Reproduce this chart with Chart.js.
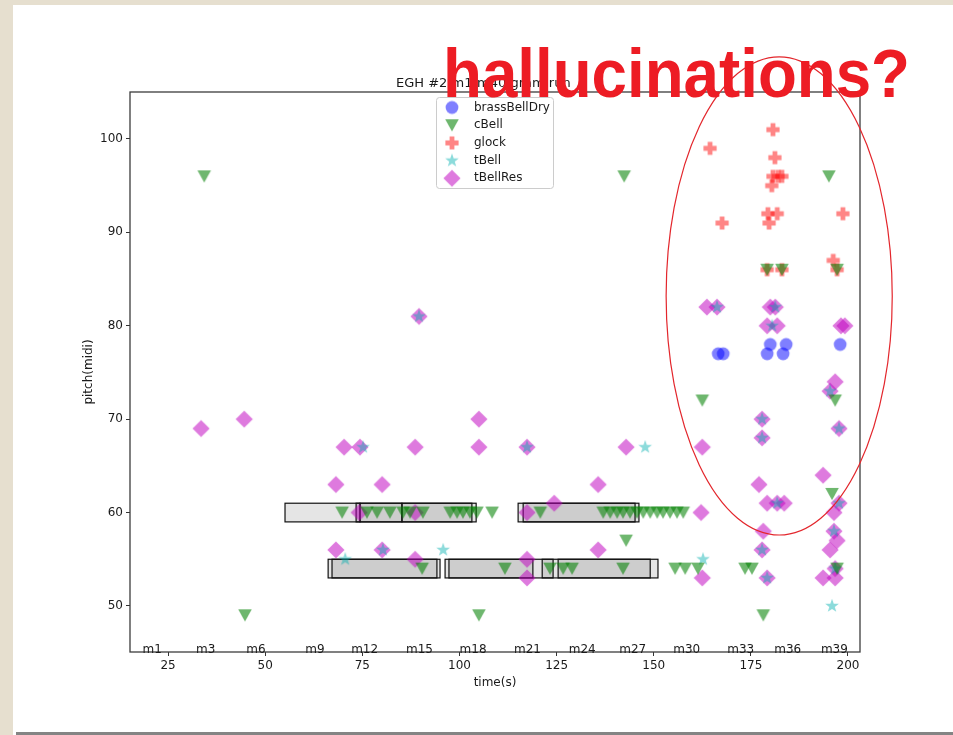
<!DOCTYPE html>
<html>
<head>
<meta charset="utf-8">
<script src="https://cdn.jsdelivr.net/npm/chart.js@4.4.1/dist/chart.umd.min.js"></script>
<style>
  html, body { margin: 0; padding: 0; background: #ffffff; }
  canvas { display: block; }
</style>
</head>
<body>
<canvas id="chart" width="953" height="735"></canvas>
<script>
// ---------- event data: onset time (s) and MIDI pitch ----------
const brassBellDryTime  = [166.6, 167.9, 179.2, 180.0, 183.3, 184.1, 198.0];
const brassBellDryPitch = [77, 77, 77, 78, 77, 78, 78];

const cBellTime = [
  34.3, 142.4, 195.1, 44.8, 105.0, 178.2, 162.5, 196.7, 195.9, 142.9,
  69.8, 76.2, 78.8, 82.1, 85.5, 87.3, 90.6, 97.6, 99.4, 100.9, 102.7, 104.5, 108.4, 120.8,
  137.0, 138.8, 140.6, 142.1, 143.9, 145.7, 147.3, 149.1, 150.9, 152.4, 154.2, 156.0, 157.6,
  90.4, 111.7, 123.3, 126.7, 129.0, 142.1, 155.5, 158.1, 161.4, 173.5, 175.3, 197.2,
  179.2, 183.0, 197.2
];
const cBellPitch = [
  96, 96, 96, 49, 49, 49, 72, 72, 62, 57,
  60, 60, 60, 60, 60, 60, 60, 60, 60, 60, 60, 60, 60, 60,
  60, 60, 60, 60, 60, 60, 60, 60, 60, 60, 60, 60, 60,
  54, 54, 54, 54, 54, 54, 54, 54, 54, 54, 54, 54,
  86, 86, 86
];

const glockTime  = [180.7, 164.5, 181.2, 180.7, 182.0, 183.0, 180.4, 179.4, 181.8, 179.7, 167.6, 198.7, 196.2, 179.2, 183.0, 197.2];
const glockPitch = [101, 99, 98, 96, 96, 96, 95, 92, 92, 91, 91, 92, 87, 86, 86, 86];

const tBellTime  = [70.6, 75.2, 80.3, 89.6, 95.8, 117.4, 147.8, 162.7, 195.9,
                    166.3, 181.3, 180.5, 177.9, 177.9, 197.7, 179.2, 196.4, 195.4, 177.9, 181.8, 197.7, 196.7];
const tBellPitch = [55, 67, 56, 81, 56, 67, 67, 55, 50,
                    82, 82, 80, 70, 68, 69, 53, 58, 73, 56, 61, 61, 54];

const tBellResTime = [
  33.5, 44.6, 68.2, 70.3, 74.4, 80.1, 68.2, 80.1, 74.2, 88.6, 88.6, 88.6, 89.6,
  105.0, 105.0, 117.4, 117.4, 124.4, 117.4, 117.4, 135.7, 135.7, 142.9,
  163.7, 166.3, 180.0, 181.3, 179.2, 181.8, 198.2, 199.2, 196.7, 195.4, 197.7,
  177.9, 177.9, 162.5, 193.6, 177.1, 179.2, 181.8, 183.6, 197.7, 196.4, 162.2,
  178.2, 196.4, 197.2, 195.4, 177.9, 162.5, 179.2, 193.6, 196.7, 196.7
];
const tBellResPitch = [
  69, 70, 63, 67, 67, 63, 56, 56, 60, 60, 67, 55, 81,
  70, 67, 67, 60, 61, 55, 53, 63, 56, 67,
  82, 82, 82, 82, 80, 80, 80, 80, 74, 73, 69,
  70, 68, 67, 64, 63, 61, 61, 61, 61, 60, 60,
  58, 58, 57, 56, 56, 53, 53, 53, 54, 53
];

// gram segments: start (s), end (s), centre pitch
const gramStart = [55.1, 73.4, 74.4, 85.2, 115.1, 116.4, 66.2, 67.2, 96.3, 97.3, 121.3, 125.4];
const gramEnd   = [74.4, 85.2, 103.2, 104.3, 145.2, 146.2, 95.0, 94.2, 124.1, 118.9, 151.1, 149.1];
const gramPitch = [60, 60, 60, 60, 60, 60, 54, 54, 54, 54, 54, 54];

// measure markers along the time axis
const measureLabels = ['m1', 'm3', 'm6', 'm9', 'm12', 'm15', 'm18', 'm21', 'm24', 'm27', 'm30', 'm33', 'm36', 'm39'];
const measureTimes  = [20.9, 34.7, 47.6, 62.8, 75.6, 89.7, 103.5, 117.5, 131.6, 144.6, 158.5, 172.4, 184.5, 196.5];

// axis ticks
const xTickValues = [25, 50, 75, 100, 125, 150, 175, 200];
const yTickValues = [50, 60, 70, 80, 90, 100];

// ---------- marker sprites ----------
function makeMarker(kind, rgb, alpha) {
  const size = 24;
  const c = document.createElement('canvas');
  c.width = size; c.height = size;
  const g = c.getContext('2d');
  g.translate(size / 2, size / 2);
  g.fillStyle = 'rgba(' + rgb + ',' + alpha + ')';
  g.beginPath();
  if (kind === 'circle') {
    g.arc(0, 0, 6.4, 0, Math.PI * 2);
  } else if (kind === 'triDown') {
    g.moveTo(-6.8, -5.9); g.lineTo(6.8, -5.9); g.lineTo(0, 6.3); g.closePath();
  } else if (kind === 'plus') {
    const a = 6.6, b = 2.4;
    g.moveTo(-b, -a); g.lineTo(b, -a); g.lineTo(b, -b); g.lineTo(a, -b); g.lineTo(a, b);
    g.lineTo(b, b); g.lineTo(b, a); g.lineTo(-b, a); g.lineTo(-b, b); g.lineTo(-a, b);
    g.lineTo(-a, -b); g.lineTo(-b, -b); g.closePath();
  } else if (kind === 'star') {
    for (let i = 0; i < 10; i++) {
      const r = i % 2 ? 2.9 : 7.2;
      const ang = -Math.PI / 2 + i * Math.PI / 5;
      const px = r * Math.cos(ang), py = r * Math.sin(ang);
      if (i === 0) g.moveTo(px, py); else g.lineTo(px, py);
    }
    g.closePath();
  } else if (kind === 'diamond') {
    g.moveTo(0, -8.6); g.lineTo(8.6, 0); g.lineTo(0, 8.6); g.lineTo(-8.6, 0); g.closePath();
  }
  g.fill();
  return c;
}

const markers = {
  brassBellDry: makeMarker('circle', '0,0,255', 0.5),
  cBell: makeMarker('triDown', '0,128,0', 0.57),
  glock: makeMarker('plus', '255,0,0', 0.48),
  tBell: makeMarker('star', '0,175,175', 0.45),
  tBellRes: makeMarker('diamond', '191,0,191', 0.52)
};

const toPoints = (ts, ps) => ts.map((t, i) => ({ x: t, y: ps[i] }));

const series = [
  { label: 'brassBellDry', data: toPoints(brassBellDryTime, brassBellDryPitch) },
  { label: 'cBell', data: toPoints(cBellTime, cBellPitch) },
  { label: 'glock', data: toPoints(glockTime, glockPitch) },
  { label: 'tBell', data: toPoints(tBellTime, tBellPitch) },
  { label: 'tBellRes', data: toPoints(tBellResTime, tBellResPitch) }
];

const FONT = 'DejaVu Sans';
const TEXT = '#1a1a1a';

// ---------- plugins ----------
const slidePage = {
  id: 'slidePage',
  beforeDraw(chart) {
    const ctx = chart.ctx;
    ctx.save();
    ctx.fillStyle = '#e6dfcf';
    ctx.fillRect(0, 0, chart.width, chart.height);
    ctx.fillStyle = '#ffffff';
    ctx.fillRect(13, 5, chart.width - 13, chart.height - 5);
    ctx.fillStyle = '#848484';
    ctx.fillRect(16, chart.height - 3, chart.width - 16, 3);
    ctx.restore();
  }
};

const gramBoxes = {
  id: 'gramBoxes',
  beforeDatasetsDraw(chart) {
    const { ctx, scales: { x, y } } = chart;
    ctx.save();
    gramStart.forEach((s, i) => {
      const x0 = x.getPixelForValue(s), x1 = x.getPixelForValue(gramEnd[i]);
      const y0 = y.getPixelForValue(gramPitch[i] + 1), y1 = y.getPixelForValue(gramPitch[i] - 1);
      ctx.fillStyle = 'rgba(0,0,0,0.1)';
      ctx.fillRect(x0, y0, x1 - x0, y1 - y0);
      ctx.strokeStyle = '#111111';
      ctx.lineWidth = 1.2;
      ctx.strokeRect(x0, y0, x1 - x0, y1 - y0);
    });
    ctx.restore();
  }
};

const axesDecor = {
  id: 'axesDecor',
  afterDatasetsDraw(chart) {
    const { ctx, chartArea: a, scales: { x } } = chart;
    ctx.save();
    // axes frame
    ctx.strokeStyle = '#3c3c3c';
    ctx.lineWidth = 1.3;
    ctx.strokeRect(a.left, a.top, a.right - a.left, a.bottom - a.top);
    // measure labels
    ctx.fillStyle = TEXT;
    ctx.font = '12px "' + FONT + '"';
    ctx.textAlign = 'center';
    ctx.textBaseline = 'alphabetic';
    measureLabels.forEach((m, i) => {
      ctx.fillText(m, x.getPixelForValue(measureTimes[i]), a.bottom + 1);
    });
    // title
    ctx.font = '13px "' + FONT + '"';
    ctx.textAlign = 'left';
    ctx.fillText('EGH #2 m1-m40 gram run', 396, 87);
    // legend
    const lx = 436, ly = 97, lw = 117, lh = 91;
    ctx.fillStyle = 'rgba(255,255,255,0.85)';
    ctx.strokeStyle = '#cccccc';
    ctx.lineWidth = 1;
    ctx.beginPath();
    ctx.roundRect(lx + 0.5, ly + 0.5, lw, lh, 3);
    ctx.fill();
    ctx.stroke();
    ctx.font = '12px "' + FONT + '"';
    ctx.textBaseline = 'middle';
    ctx.fillStyle = TEXT;
    chart.data.datasets.forEach((ds, i) => {
      const cy = ly + 10.5 + i * 17.7;
      const img = ds.pointStyle;
      ctx.drawImage(img, 452 - img.width / 2, cy - img.height / 2);
      ctx.fillText(ds.label, 474, cy);
    });
    ctx.restore();
  }
};

// callout drawn over the chart: ellipse around the upper-right cluster and the heading
const callout = {
  id: 'callout',
  afterDraw(chart) {
    const { ctx, scales: { x, y } } = chart;
    ctx.save();
    const cx = x.getPixelForValue(182.3), cy = y.getPixelForValue(83.2);
    const rx = x.getPixelForValue(182.3 + 29.1) - cx;
    const ry = y.getPixelForValue(83.2 - 25.6) - cy;
    ctx.strokeStyle = '#e3262c';
    ctx.lineWidth = 1.2;
    ctx.beginPath();
    ctx.ellipse(cx, cy, rx, ry, 0, 0, Math.PI * 2);
    ctx.stroke();

    const word = 'hallucinations?';
    ctx.font = 'bold 68px "Liberation Sans", Arial, sans-serif';
    const w = ctx.measureText(word).width;
    ctx.translate(443, 97);
    ctx.scale(467 / w, 1);
    ctx.fillStyle = '#ed1c24';
    ctx.textBaseline = 'alphabetic';
    ctx.textAlign = 'left';
    ctx.fillText(word, 0, 0);
    ctx.restore();
  }
};

// ---------- chart ----------
new Chart(document.getElementById('chart'), {
  type: 'scatter',
  data: {
    datasets: series.map(s => ({
      label: s.label,
      data: s.data,
      pointStyle: markers[s.label],
      pointRadius: 6,
      pointHoverRadius: 6,
      backgroundColor: 'transparent',
      borderColor: 'transparent'
    }))
  },
  options: {
    responsive: false,
    animation: false,
    events: [],
    layout: { padding: { left: 0, top: 92, right: 93, bottom: 0 } },
    plugins: {
      legend: { display: false },
      title: { display: false },
      tooltip: { enabled: false }
    },
    scales: {
      x: {
        type: 'linear',
        min: 15.2,
        max: 203.1,
        afterFit: s => { s.height = 83; },
        afterBuildTicks: s => { s.ticks = xTickValues.map(v => ({ value: v })); },
        ticks: { font: { family: FONT, size: 12 }, color: TEXT, padding: 3, maxRotation: 0, autoSkip: false },
        grid: { display: true, drawOnChartArea: false, drawTicks: true, tickLength: 4, tickWidth: 1, tickColor: '#333333' },
        border: { display: false },
        title: { display: true, text: 'time(s)', font: { family: FONT, size: 12 }, color: TEXT, padding: { top: 0, bottom: 45 } }
      },
      y: {
        type: 'linear',
        min: 45.07,
        max: 105.03,
        afterFit: s => { s.width = 130; },
        afterBuildTicks: s => { s.ticks = yTickValues.map(v => ({ value: v })); },
        ticks: { font: { family: FONT, size: 12 }, color: TEXT, padding: 3, autoSkip: false },
        grid: { display: true, drawOnChartArea: false, drawTicks: true, tickLength: 4, tickWidth: 1, tickColor: '#333333' },
        border: { display: false },
        title: { display: true, text: 'pitch(midi)', font: { family: FONT, size: 12 }, color: TEXT, padding: { top: 82, bottom: 0 } }
      }
    }
  },
  plugins: [slidePage, gramBoxes, axesDecor, callout]
});
</script>
</body>
</html>
